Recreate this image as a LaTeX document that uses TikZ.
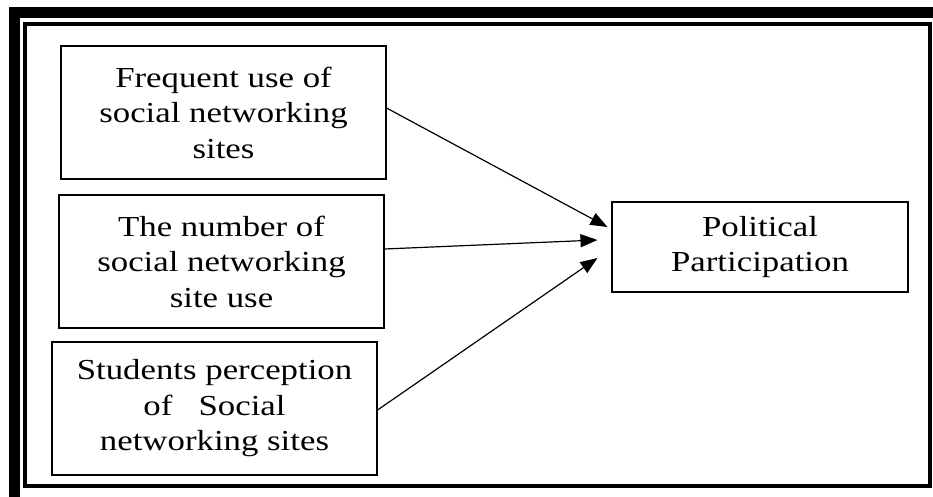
\documentclass[tikz,border=0pt]{standalone}
\usepackage{fontspec}
\newfontfamily\boxfont[FakeStretch=1.2]{Liberation Serif}
\usetikzlibrary{arrows.meta,positioning,calc}
\tikzset{
    factor/.style={draw, line width=1.1pt, minimum width=325pt, minimum height=133pt,
        inner sep=0pt, align=center, font=\boxfont\fontsize{29}{35.5}\selectfont},
    link/.style={line width=1.2pt, -{Triangle[length=17pt,width=13pt]}}}

\begin{document}
\begin{tikzpicture}[x=1pt, y=-1pt]
    \useasboundingbox (0,0) rectangle (933,497);
    \clip (0,0) rectangle (933,497);
    % Double frame round the figure
    \draw[line width=11pt] (14,12.5) rectangle (944,502);
    \draw[line width=4pt] (25,24) rectangle (930,486);

    % Independent variables
    \node[factor] (freq) at (223.5,112.5) {Frequent use of\\social networking\\sites};
    \node[factor] (num) at (221.5,261.5) {The number of\\social networking\\site use};
    \node[factor] (perc) at (214.5,408.5) {Students perception\\of\ \ \ Social\\networking sites};

    % Dependent variable
    \node[factor, minimum width=296pt, minimum height=90pt] (pol) at (760,247) {Political\\Participation};

    % Arrow tips stop short of the box
    \coordinate (tip1) at ([xshift=-4pt,yshift=20pt]pol.west);
    \coordinate (tip2) at ([xshift=-14pt,yshift=7pt]pol.west);
    \coordinate (tip3) at ([xshift=-14pt,yshift=-11pt]pol.west);
    \draw[link] ([yshift=4.5pt]freq.east) -- (tip1);
    \draw[link] ([yshift=12.5pt]num.east) -- (tip2);
    \draw[link] ([yshift=-1.5pt]perc.east) -- (tip3);
\end{tikzpicture}
\end{document}
